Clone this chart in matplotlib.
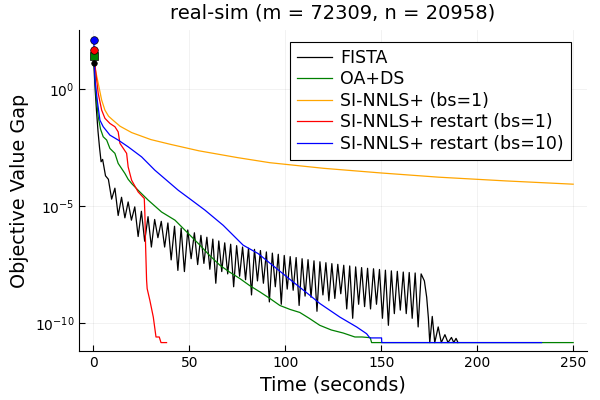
import numpy as np
import matplotlib
matplotlib.use("Agg")
import matplotlib.pyplot as plt
from matplotlib.ticker import FixedLocator, NullLocator

# values are log10 of the objective value gap

# FISTA: steep start, then oscillation peaks / dips, then the tail
fista_head_t = [0.3, 1.0, 1.7, 2.5, 3.3, 4.1]
fista_head = [1.13, 0.0, -0.9, -1.8, -2.5, -3.1]

fista_peak_t = [4.9, 7.9, 11.3, 14.75, 18.2, 21.65, 25.1, 28.55, 32.0, 35.45,
                38.9, 42.35, 45.8, 49.25, 52.7,
                56.1, 59.2, 62.3, 65.4, 68.5, 71.6, 74.7, 77.8, 80.9, 84.0,
                87.1, 90.2, 93.3, 96.4, 99.5, 102.6, 105.7, 108.8, 111.9, 115.0,
                118.1, 121.2, 124.3, 127.4, 130.5, 133.6, 136.7, 139.8, 142.9, 146.0,
                149.1, 152.2, 155.3, 158.4, 161.5, 164.6, 167.7, 170.8]
fista_peak = [-3.0, -3.85, -4.23, -4.62, -4.82, -5.03, -5.22, -5.45, -5.57, -5.65,
              -5.72, -5.86, -5.94, -6.02, -6.14,
              -6.25, -6.33, -6.41, -6.49, -6.57, -6.63, -6.69, -6.75, -6.8, -6.85,
              -6.9, -6.96, -7.01, -7.06, -7.11, -7.16, -7.2, -7.25, -7.29, -7.34,
              -7.38, -7.42, -7.46, -7.49, -7.53, -7.56, -7.6, -7.63, -7.66, -7.68,
              -7.71, -7.74, -7.77, -7.79, -7.82, -7.84, -7.86, -7.9]

fista_dip_t = [6.4, 9.6, 13.0, 16.5, 19.9, 23.4, 26.8, 30.3, 33.7, 37.2,
               40.6, 44.1, 47.5, 51.0, 54.4,
               57.65, 60.75, 63.85, 66.95, 70.05, 73.15, 76.25, 79.35, 82.45, 85.55,
               88.65, 91.75, 94.85, 97.95, 101.05, 104.15, 107.25, 110.35, 113.45, 116.55,
               119.65, 122.75, 125.85, 128.95, 132.05, 135.15, 138.25, 141.35, 144.45, 147.55,
               150.65, 153.75, 156.85, 159.95, 163.05, 166.15, 169.25]
fista_dip = [-3.7, -4.7, -5.4, -5.5, -5.6, -6.3, -6.5, -6.75, -6.35, -6.75,
             -7.3, -7.75, -7.8, -7.25, -7.5,
             -7.45, -7.7, -8.3, -7.8, -7.9, -8.45, -8.0, -8.15, -8.8, -8.2,
             -8.3, -9.1, -8.45, -9.2, -8.55, -8.6, -9.25, -8.85, -8.9, -9.5,
             -8.8, -9.05, -8.95, -8.75, -9.4, -9.8, -9.2, -9.3, -9.4, -9.2,
             -9.8, -10.1, -9.6, -9.45, -9.6, -9.8, -10.17]

fista_tail_t = [172.5, 173.7, 174.6, 175.3, 176.6, 177.9, 179.7, 181.3, 183.2,
                184.8, 186.6, 187.8, 189.0, 190.0]
fista_tail = [-8.2, -8.9, -9.8, -10.84, -9.72, -10.84, -10.17, -10.84, -10.5,
              -10.84, -10.62, -10.84, -10.66, -10.84]

oa_t = [0.3, 1.4, 2.6, 3.8, 5.2, 7.0, 8.7, 11.3, 13.0, 16.5, 18.2, 20.0, 23.4,
        28.6, 35.6, 42.6, 49.5, 55.6, 60.5, 66.0, 71.0, 76.4, 81.5, 86.8, 92.0,
        97.2, 102.5, 107.6, 112.5, 118.0, 124.0, 130.2, 136.3, 140.0, 144.3,
        145.0, 250.0]
oa = [1.43, -0.18, -1.17, -1.7, -2.03, -2.17, -2.53, -2.74, -3.17, -3.6, -3.85,
      -4.03, -4.32, -4.74, -5.25, -5.6, -6.17, -6.67, -7.1, -7.53, -7.82, -8.1,
      -8.4, -8.67, -8.95, -9.25, -9.42, -9.55, -9.8, -10.1, -10.3, -10.43,
      -10.6, -10.6, -10.63, -10.84, -10.84]

si_t = [0.3, 1.0, 2.0, 3.0, 4.4, 6.1, 8.0, 10.0, 14.0, 20.0, 30.0, 40.0, 55.0,
        75.0, 92.0, 120.0, 150.0, 180.0, 215.0, 250.0]
si = [1.3, 0.9, 0.5, 0.1, -0.46, -0.89, -1.15, -1.3, -1.58, -1.85, -2.15,
      -2.35, -2.63, -2.92, -3.14, -3.38, -3.58, -3.76, -3.92, -4.06]

rb1_t = [0.3, 1.2, 2.6, 4.4, 6.1, 8.7, 11.3, 13.0, 13.9, 17.4, 18.2, 20.0, 23.4,
         26.0, 26.6, 26.9, 27.3, 27.8, 28.1, 29.5, 31.3, 32.7, 34.4, 35.3, 38.2]
rb1 = [1.68, 0.83, -0.17, -0.89, -1.24, -1.46, -1.6, -1.82, -2.31, -2.74, -3.32,
       -3.89, -4.39, -4.62, -4.67, -5.31, -6.75, -8.17, -8.53, -9.03, -9.75,
       -10.6, -10.6, -10.84, -10.84]

rb10_t = [0.3, 0.9, 2.3, 3.5, 5.2, 8.7, 13.0, 18.2, 25.2, 32.1, 38.2, 44.3, 51.2,
          58.2, 67.7, 78.1, 85.9, 95.5, 104.2, 112.9, 118.1, 128.5, 137.2, 142.4,
          144.1, 150.2, 150.3, 233.5]
rb10 = [2.11, 0.4, -0.6, -1.32, -1.6, -1.96, -2.17, -2.46, -2.89, -3.46, -3.89,
        -4.32, -4.74, -5.17, -5.82, -6.67, -7.03, -7.67, -8.25, -8.82, -9.17,
        -9.75, -10.17, -10.46, -10.64, -10.64, -10.84, -10.84]

# put the FISTA pieces in time order
fista_t = list(fista_head_t)
fista = list(fista_head)
for i in range(len(fista_peak_t)):
    fista_t.append(fista_peak_t[i])
    fista.append(fista_peak[i])
    if i < len(fista_dip_t):
        fista_t.append(fista_dip_t[i])
        fista.append(fista_dip[i])
fista_t += fista_tail_t
fista += fista_tail

series = [
    ("FISTA", fista_t, fista, "black", "o", 4.0),
    ("OA+DS", oa_t, oa, "green", "s", 5.5),
    ("SI-NNLS+ (bs=1)", si_t, si, "orange", None, 0),
    ("SI-NNLS+ restart (bs=1)", rb1_t, rb1, "red", "o", 5.5),
    ("SI-NNLS+ restart (bs=10)", rb10_t, rb10, "blue", "o", 5.5),
]

fig = plt.figure(figsize=(6, 4), dpi=100)
ax = fig.add_axes([0.132, 0.1225, 0.846, 0.8025])

for label, t, v, col, mk, ms in series:
    y = 10.0 ** np.array(v)
    ax.plot(t, y, color=col, lw=0.9, label=label)
for label, t, v, col, mk, ms in series:
    if mk is not None:
        ax.plot(t[0], 10.0 ** v[0], marker=mk, ms=ms, color=col,
                mec="black", mew=0.5, ls="none", zorder=5)

ax.set_yscale("log")
ax.set_xlim(-7.3, 257.1)
ax.set_ylim(10 ** -11.2, 10 ** 2.54)
ax.set_xticks([0, 50, 100, 150, 200, 250])
ax.yaxis.set_major_locator(FixedLocator([1e0, 1e-5, 1e-10]))
ax.yaxis.set_minor_locator(NullLocator())

ax.grid(True, color="black", alpha=0.06, lw=0.6)
ax.spines["top"].set_visible(False)
ax.spines["right"].set_visible(False)
ax.tick_params(direction="in", length=4, width=0.8, labelsize=10)

ax.set_title("real-sim (m = 72309, n = 20958)", fontsize=14, pad=8)
ax.set_xlabel("Time (seconds)", fontsize=13.8)
ax.set_ylabel("Objective Value Gap", fontsize=13.8)

leg = ax.legend(loc="upper right", bbox_to_anchor=(0.9685, 0.9626),
                borderaxespad=0, fontsize=12.5, fancybox=False, framealpha=1,
                edgecolor="black", handlelength=2.0, labelspacing=0.2,
                borderpad=0.4, handletextpad=0.5)
leg.get_frame().set_linewidth(0.8)

fig.savefig("out.png", dpi=100)
